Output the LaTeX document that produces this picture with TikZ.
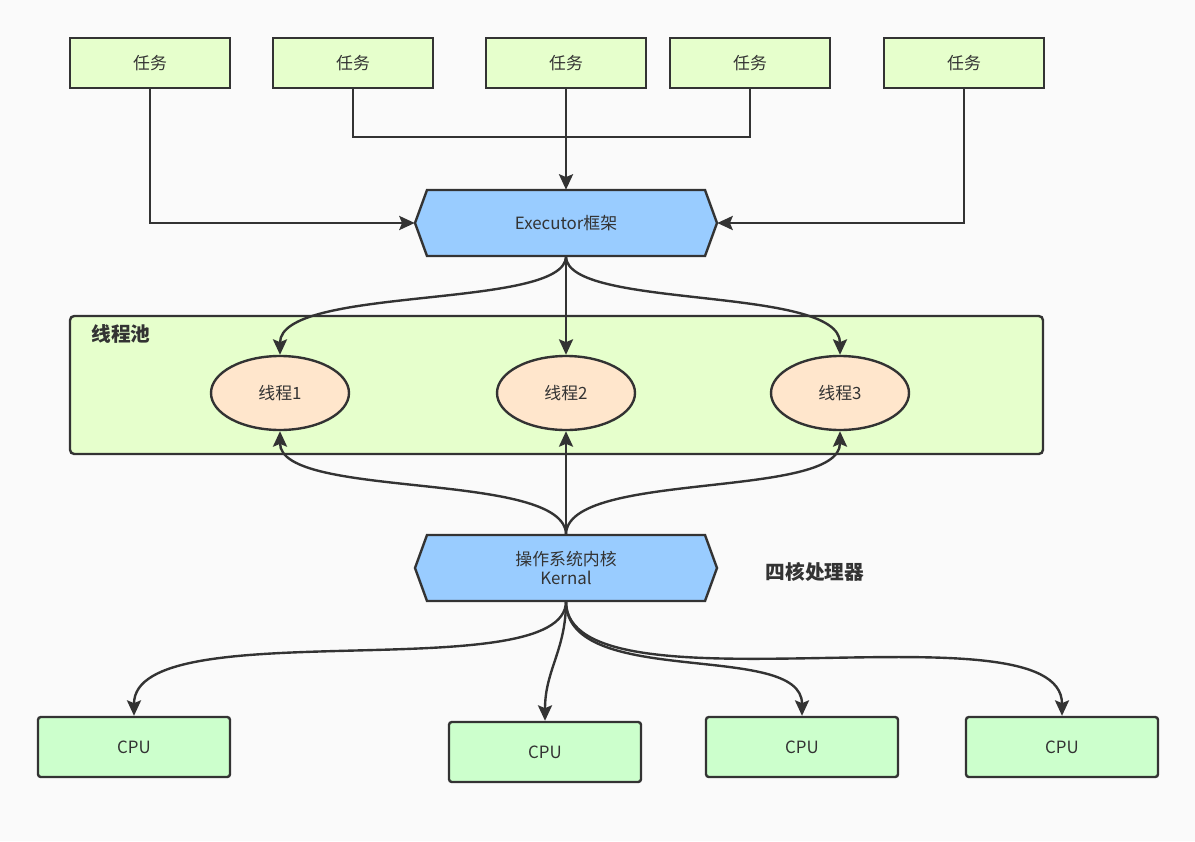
\documentclass[tikz,border=0pt]{standalone}
\usepackage{fontspec}
\setmainfont{Noto Sans CJK SC}
\usetikzlibrary{shapes.geometric,arrows.meta}
\definecolor{ln}{HTML}{333333}
\definecolor{bg}{HTML}{FAFAFA}
\definecolor{tk}{HTML}{E6FFCC}
\definecolor{cp}{HTML}{CCFFCC}
\definecolor{el}{HTML}{FFE6CC}
\definecolor{hx}{HTML}{99CCFF}
\begin{document}
\begin{tikzpicture}[x=0.025cm,y=-0.025cm,
 every node/.style={font=\fontsize{12}{14}\selectfont,text=ln},
 task/.style={draw=ln,line width=1.7pt,fill=tk,minimum width=160*0.025cm,minimum height=50*0.025cm},
 cpu/.style={draw=ln,line width=1.7pt,fill=cp,rounded corners=2pt,minimum width=192*0.025cm,minimum height=60*0.025cm},
 th/.style={ellipse,draw=ln,line width=1.7pt,fill=el,minimum width=138*0.025cm,minimum height=74*0.025cm},
 hexn/.style={minimum width=302*0.025cm,minimum height=66*0.025cm,inner sep=0pt,align=center},
 hexf/.style={draw=ln,line width=1.7pt,fill=hx},
 arr/.style={draw=ln,line width=1.7pt,-{Stealth[length=11pt,width=10pt,inset=2pt]}},
 lnn/.style={draw=ln,line width=1.7pt}]
\fill[bg] (0,0) rectangle (1195,841);
\foreach \n/\x in {t1/150,t2/353,t3/566,t4/750,t5/964}{\node[task] (\n) at (\x,63) {任务};}
\draw[hexf] (415,223) -- (427,190) -- (705,190) -- (717,223) -- (705,256) -- (427,256) -- cycle;
\node[hexn] (ex) at (566,223) {Executor框架};
\node[draw=ln,line width=1.7pt,fill=tk,rounded corners=3pt,minimum width=973*0.025cm,minimum height=138*0.025cm] (pool) at (556.5,385) {};
\node[font=\fontsize{14}{16}\selectfont\bfseries] (pl) at (121,334) {线程池};
\node[th] (p1) at (280,393) {线程1};
\node[th] (p2) at (566,393) {线程2};
\node[th] (p3) at (840,393) {线程3};
\draw[hexf] (415,568) -- (427,535) -- (705,535) -- (717,568) -- (705,601) -- (427,601) -- cycle;
\node[hexn] (k) at (566,568) {操作系统内核\\[0pt]Kernal};
\node[font=\fontsize{14}{16}\selectfont\bfseries] (lab) at (815,572) {四核处理器};
\node[cpu] (c1) at (134,747) {CPU};
\node[cpu] (c2) at (545,752) {CPU};
\node[cpu] (c3) at (802,747) {CPU};
\node[cpu] (c4) at (1062,747) {CPU};
\coordinate (j) at (566,137);
\draw[arr] (t1.south) |- (ex.west);
\draw[arr] (t5.south) |- (ex.east);
\draw[lnn] (t2.south) |- (j);
\draw[lnn] (t4.south) |- (j);
\draw[arr] (t3.south) -- (ex.north);
\draw[arr] (ex.south) .. controls (566,310) and (280,285) .. (p1.north);
\draw[arr] (ex.south) -- (p2.north);
\draw[arr] (ex.south) .. controls (566,310) and (840,285) .. (p3.north);
\draw[arr] (k.north) .. controls (566,470) and (280,500) .. (p1.south);
\draw[arr] (k.north) -- (p2.south);
\draw[arr] (k.north) .. controls (566,470) and (840,500) .. (p3.south);
\draw[arr] (k.south) .. controls (566,690) and (134,610) .. (c1.north);
\draw[arr] (k.south) .. controls (566,650) and (545,670) .. (c2.north);
\draw[arr] (k.south) .. controls (566,690) and (802,640) .. (c3.north);
\draw[arr] (k.south) .. controls (566,720) and (1062,600) .. (c4.north);
\end{tikzpicture}
\end{document}
